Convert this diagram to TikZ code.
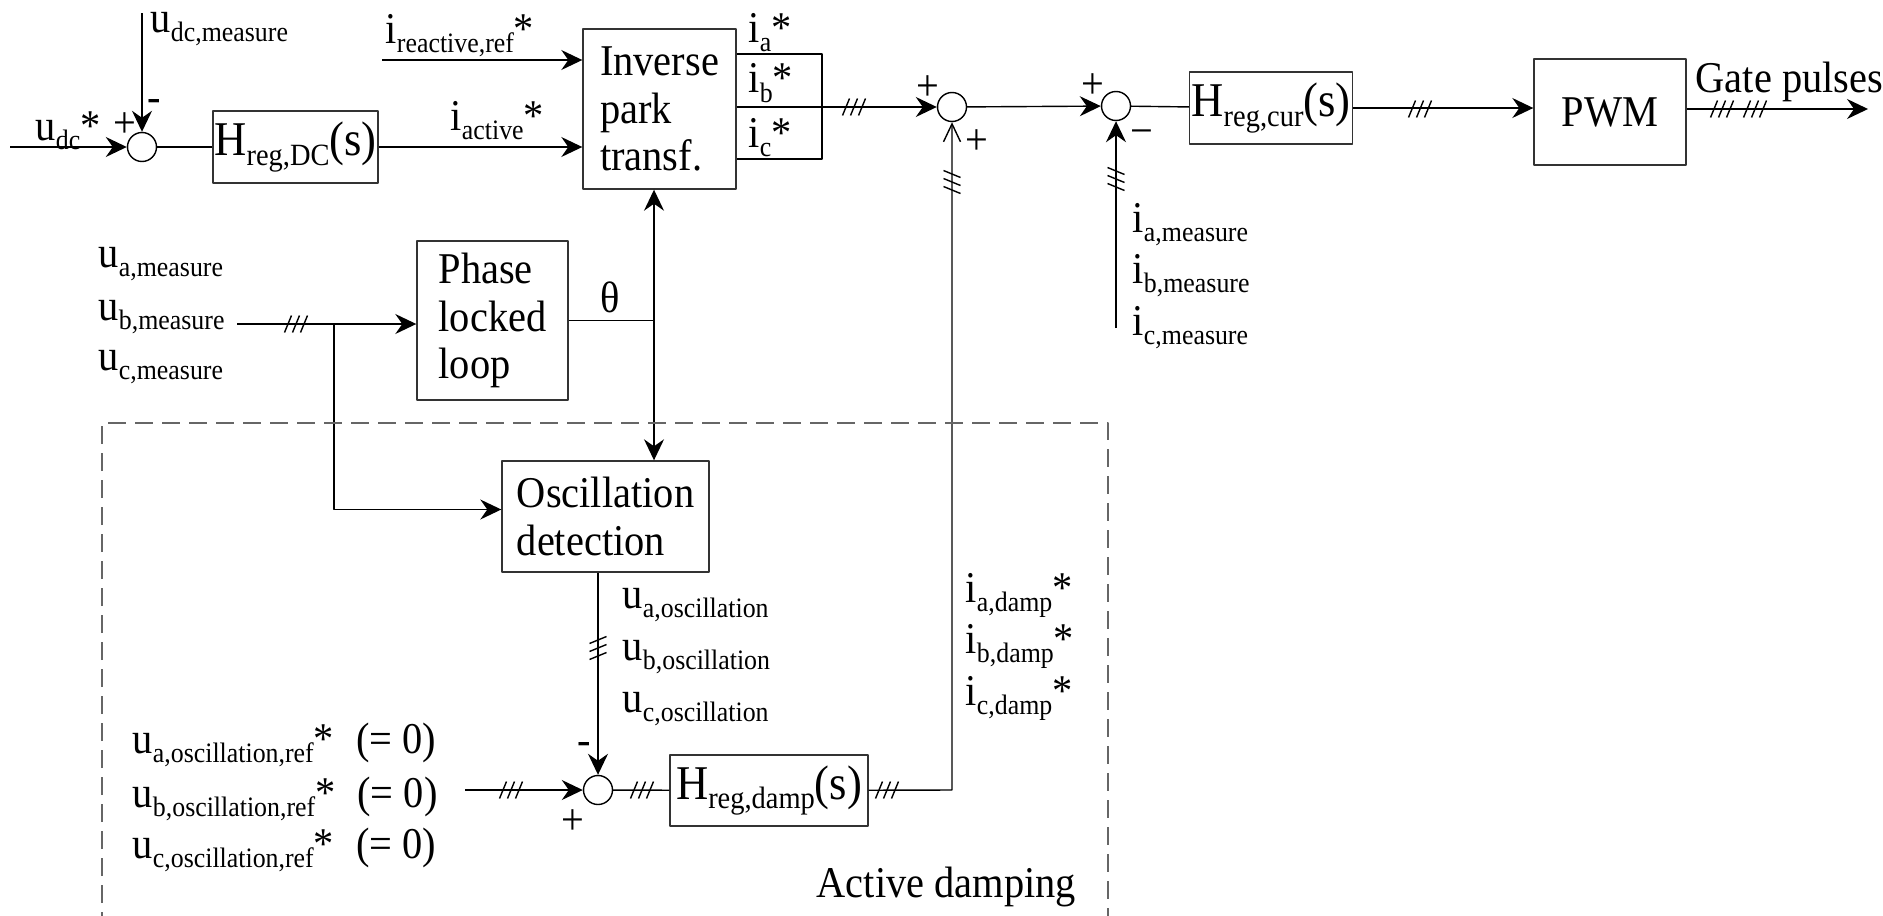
\documentclass[tikz,border=0pt]{standalone}
\usepackage{fontspec}
\setmainfont{Liberation Serif}[FakeStretch=0.92]
\usetikzlibrary{arrows.meta}
\newcommand{\sbs}[2][8]{\raisebox{-2.8pt}{\fontsize{#1}{#1}\selectfont #2}}

\begin{document}
\begin{tikzpicture}[x=1cm,y=1cm, line join=round, font=\fontsize{12.5}{13.5}\selectfont,
	>={Stealth[length=2.1mm,width=2mm,inset=0.7mm]},
	blk/.style={draw=black!80, inner sep=0pt, align=left},
	hblk/.style={blk, font=\fontsize{13.8}{15}\selectfont},
	sumj/.style={draw, circle, minimum size=2.9mm, inner sep=0pt},
	lbl/.style={anchor=base west, inner sep=0pt},
	sgn/.style={inner sep=0pt},
	trip/.pic={\foreach \k in {-1,0,1} \draw (\k*0.08-0.035,-0.085) -- ++(0.07,0.17);}]
	\useasboundingbox (0,0) rectangle (18.83,-9.15);
	% summing junctions
	\node[sumj] (s1) at (1.42,-1.47) {};
	\node[sumj] (s2) at (9.52,-1.07) {};
	\node[sumj] (s3) at (11.16,-1.06) {};
	\node[sumj] (s4) at (5.98,-7.90) {};
	% blocks
	\node[hblk, minimum width=1.65cm, minimum height=0.72cm] (hdc) at (2.955,-1.47) {H\sbs[8.8]{reg,DC}(s)};
	\node[blk, minimum width=1.53cm, minimum height=1.60cm] (ipt) at (6.595,-1.09) {Inverse\\park\\transf.};
	\node[hblk, minimum width=1.63cm, minimum height=0.72cm] (hcur) at (12.71,-1.08) {H\sbs[8.8]{reg,cur}(s)};
	\node[blk, minimum width=1.52cm, minimum height=1.06cm] (pwm) at (16.10,-1.12) {PWM};
	\node[blk, minimum width=1.51cm, minimum height=1.59cm] (pll) at (4.925,-3.205) {Phase\\locked\\loop};
	\node[blk, minimum width=2.07cm, minimum height=1.11cm] (osc) at (6.055,-5.165) {Oscillation\\detection};
	\node[hblk, minimum width=1.98cm, minimum height=0.71cm] (hdmp) at (7.69,-7.905) {H\sbs[8.8]{reg,damp}(s)};
	% free ends
	\coordinate (udcin) at (0.10,-1.47);
	\coordinate (udcm) at (1.42,-0.13);
	\coordinate (ireac) at (3.82,-0.60);
	\coordinate (ia) at (8.22,-0.54);
	\coordinate (ic) at (8.22,-1.59);
	\coordinate (gate) at (18.68,-1.09);
	\coordinate (imeas) at (11.16,-3.28);
	\coordinate (umeas) at (2.37,-3.24);
	\coordinate (br) at (3.34,-3.24);
	\coordinate (th) at (6.54,-3.205);
	\coordinate (uref) at (4.65,-7.90);
	\coordinate (dmp) at (9.52,-7.90);
	% DC voltage loop
	\draw[->] (udcin) -- (s1);
	\draw[->] (udcm) -- (s1);
	\draw (s1) -- (hdc);
	\draw[->] (hdc) -- (ipt.west |- hdc);
	\draw[->] (ireac) -- (ipt.west |- ireac);
	% current loop
	\draw (ipt.east |- ia) -- (ia) -- (ic) -- (ipt.east |- ic);
	\draw[->] (ipt.east |- s2) -- (s2);
	\draw[->] (s2) -- (s3);
	\draw (s3) -- (hcur);
	\draw[->] (hcur) -- (pwm.west |- hcur);
	\draw[->] (pwm.east |- gate) -- (gate);
	\draw[->] (imeas) -- (s3);
	% PLL
	\draw[->] (umeas) -- (pll.west |- umeas);
	\draw[->] (br) |- ([yshift=0.07cm]osc.west);
	\draw (pll) -- (th);
	\draw[->] (th) -- (th |- ipt.south);
	\draw[->] (th) -- (th |- osc.north);
	% damping
	\draw[->] (osc.south -| s4) -- (s4);
	\draw[->] (uref) -- (s4);
	\draw (s4) -- (hdmp);
	\draw[-{Straight Barb[length=1.8mm,width=1.7mm]}] (hdmp) -- (dmp) -- (s2);
	\draw[draw=black!60, dash pattern=on 1.8mm off 0.9mm] (1.02,-9.3) -- (1.02,-4.23) -- (11.08,-4.23) -- (11.08,-9.3);
	% three phase marks
	\pic at (8.54,-1.07) {trip};
	\pic at (14.20,-1.09) {trip};
	\pic at (17.22,-1.09) {trip};
	\pic at (17.55,-1.09) {trip};
	\pic at (2.96,-3.24) {trip};
	\pic at (5.11,-7.90) {trip};
	\pic at (6.42,-7.90) {trip};
	\pic at (8.87,-7.90) {trip};
	\pic[rotate=-90] at (11.16,-1.79) {trip};
	\pic[rotate=-90] at (9.52,-1.82) {trip};
	\pic[rotate=90, xscale=-1] at (5.98,-6.48) {trip};
	% labels
	\node[lbl] (ludcm) at (1.50,-0.32) {u\sbs{dc,measure}};
	\node[lbl] (ludc) at (0.35,-1.40) {u\sbs{dc}*};
	\node[sgn] (p1) at (1.25,-1.25) {+};
	\node[sgn] (m1) at (1.54,-1.06) {-};
	\node[lbl] (lreac) at (3.85,-0.43) {i\sbs{reactive,ref}*};
	\node[lbl] (lact) at (4.50,-1.30) {i\sbs{active}*};
	\node[lbl] (lia) at (7.48,-0.42) {i\sbs{a}*};
	\node[lbl] (lib) at (7.48,-0.93) {i\sbs{b}*};
	\node[lbl] (lic) at (7.48,-1.47) {i\sbs{c}*};
	\node[sgn] (p2) at (9.28,-0.88) {+};
	\node[sgn] (p2b) at (9.77,-1.42) {+};
	\node[sgn] (p3) at (10.93,-0.86) {+};
	\node[sgn] (m3) at (11.42,-1.38) {−};
	\node[lbl] (lgate) at (16.95,-0.92) {Gate pulses};
	\node[lbl] (lima) at (11.32,-2.32) {i\sbs{a,measure}};
	\node[lbl] (limb) at (11.32,-2.83) {i\sbs{b,measure}};
	\node[lbl] (limc) at (11.32,-3.35) {i\sbs{c,measure}};
	\node[lbl] (luma) at (0.98,-2.67) {u\sbs{a,measure}};
	\node[lbl] (lumb) at (0.98,-3.20) {u\sbs{b,measure}};
	\node[lbl] (lumc) at (0.98,-3.70) {u\sbs{c,measure}};
	\node[sgn] (lth) at (6.10,-2.97) {θ};
	\node[lbl] (luoa) at (6.22,-6.08) {u\sbs{a,oscillation}};
	\node[lbl] (luob) at (6.22,-6.60) {u\sbs{b,oscillation}};
	\node[lbl] (luoc) at (6.22,-7.12) {u\sbs{c,oscillation}};
	\node[lbl] (lida) at (9.65,-6.02) {i\sbs{a,damp}*};
	\node[lbl] (lidb) at (9.65,-6.53) {i\sbs{b,damp}*};
	\node[lbl] (lidc) at (9.65,-7.05) {i\sbs{c,damp}*};
	\node[lbl] (lura) at (1.32,-7.53) {u\sbs{a,oscillation,ref}*\hspace{2.2mm}(= 0)};
	\node[lbl] (lurb) at (1.32,-8.07) {u\sbs{b,oscillation,ref}*\hspace{2.2mm}(= 0)};
	\node[lbl] (lurc) at (1.32,-8.58) {u\sbs{c,oscillation,ref}*\hspace{2.2mm}(= 0)};
	\node[sgn] (m4) at (5.84,-7.48) {-};
	\node[sgn] (p4) at (5.73,-8.22) {+};
	\node[lbl] (ladmp) at (8.16,-8.97) {Active damping};
\end{tikzpicture}
\end{document}
